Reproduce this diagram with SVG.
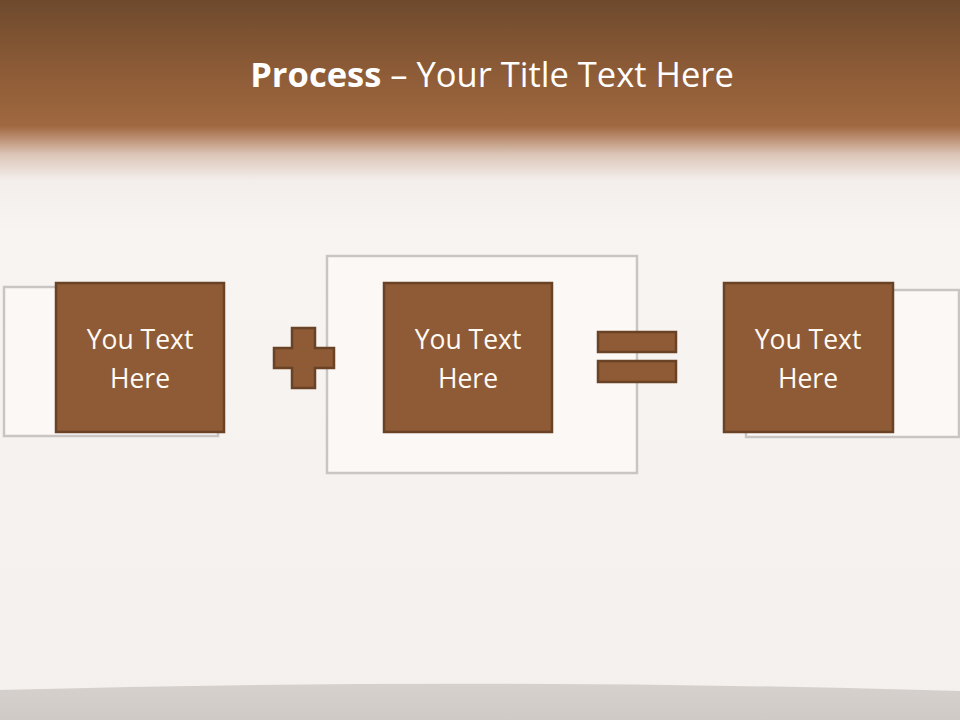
<svg xmlns="http://www.w3.org/2000/svg" width="960" height="720" viewBox="0 0 960 720">
<defs>
<linearGradient id="bg" x1="0" y1="0" x2="0" y2="720" gradientUnits="userSpaceOnUse">
<stop offset="0" stop-color="#6e4a2d"/>
<stop offset="0.09" stop-color="#8a5a36"/>
<stop offset="0.175" stop-color="#a0683f"/>
<stop offset="0.19" stop-color="#b88a6c"/>
<stop offset="0.215" stop-color="#dcc6b8"/>
<stop offset="0.25" stop-color="#f3eeeb"/>
<stop offset="0.32" stop-color="#f7f4f2"/>
<stop offset="1" stop-color="#f3f0ed"/>
</linearGradient>
<linearGradient id="floor" x1="0" y1="0" x2="0" y2="1">
<stop offset="0" stop-color="#d6d1cd"/>
<stop offset="1" stop-color="#cfcac6"/>
</linearGradient>
<style>
.frame{fill:#fbf8f6;stroke:#c9c5c2;stroke-width:2.5}
.box{fill:#8e5b36;stroke:#6a4226;stroke-width:2.5}
.sym{fill:#8e5b36;stroke:#6a4226;stroke-width:2.5}
.lbl{font-family:"Open Sans","Liberation Sans",sans-serif;font-size:26.5px;fill:#fffaf3;text-anchor:middle}
.title{font-family:"Open Sans","Liberation Sans",sans-serif;font-size:34.5px;fill:#ffffff;text-anchor:middle}
</style>
</defs>
<rect x="0" y="0" width="960" height="720" fill="url(#bg)"/>
<path d="M0,690 Q480,677 960,691 L960,720 L0,720 Z" fill="url(#floor)"/>
<text class="title" x="492" y="87"><tspan font-weight="bold">Process</tspan> – Your Title Text Here</text>

<g id="frame-left"><rect class="frame" x="4" y="287" width="214" height="149"/></g>
<g id="frame-middle"><rect class="frame" x="327" y="256" width="310" height="217"/></g>
<g id="frame-right"><rect class="frame" x="746" y="290" width="213" height="147"/></g>

<g id="node1">
<rect class="box" x="56" y="283" width="168" height="149"/>
<text class="lbl" x="140" y="349">You Text</text>
<text class="lbl" x="140" y="388">Here</text>
</g>
<g id="plus">
<path class="sym" d="M292,328 H315 V348 H334 V368 H315 V388 H292 V368 H274 V348 H292 Z"/>
</g>
<g id="node2">
<rect class="box" x="384" y="283" width="168" height="149"/>
<text class="lbl" x="468" y="349">You Text</text>
<text class="lbl" x="468" y="388">Here</text>
</g>
<g id="equals">
<rect class="sym" x="598" y="332" width="78" height="20"/>
<rect class="sym" x="598" y="361" width="78" height="21"/>
</g>
<g id="node3">
<rect class="box" x="724" y="283" width="169" height="149"/>
<text class="lbl" x="808" y="349">You Text</text>
<text class="lbl" x="808" y="388">Here</text>
</g>
<g id="connectors"></g>
</svg>
